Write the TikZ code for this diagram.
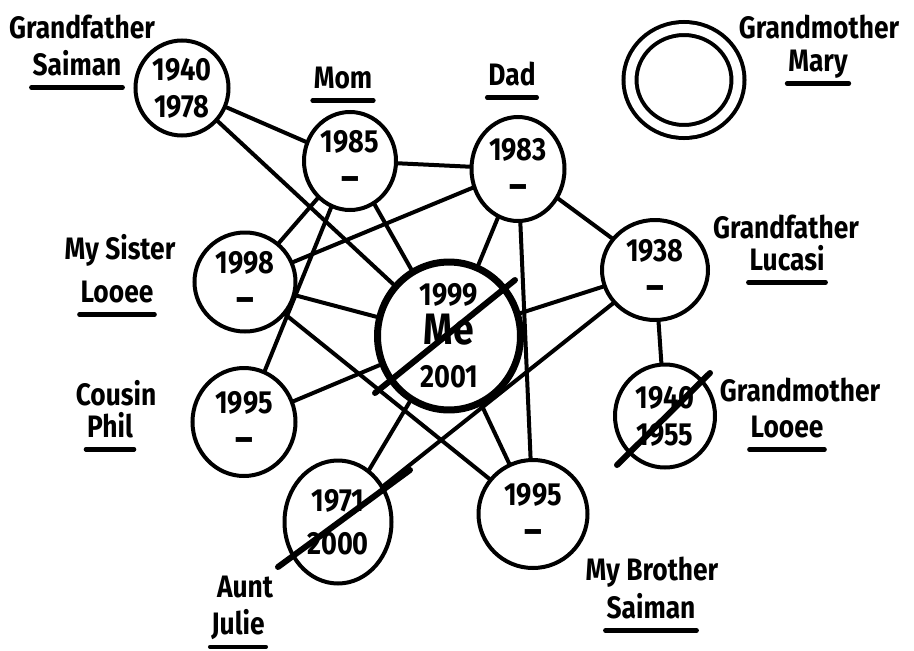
\documentclass[tikz,border=0pt]{standalone}
\usepackage{fontspec}
\setmainfont[FakeStretch=0.85]{Fira Sans}
\usetikzlibrary{shapes.geometric,positioning}

\begin{document}
\begin{tikzpicture}[x=1pt,y=-1pt,
 pc/.style={draw,ellipse,line width=4pt,inner sep=0pt,align=center,
  font=\bfseries\fontsize{32}{37}\selectfont},
 lb/.style={inner sep=1pt,font=\bfseries\fontsize{31}{34}\selectfont},
 ln/.style={line width=4pt,line cap=round},
 ul/.style={line width=4.5pt,line cap=round},
 xo/.style={line width=6pt,line cap=round}]
\newcommand{\nodash}{{\fontsize{40}{37}\selectfont –}}
\path[use as bounding box,fill=white] (0,0) rectangle (914,651);
% people
\node[pc,minimum width=93pt,minimum height=95pt] (gs) at (182,88) {1940\\1978};
\node[pc,minimum width=92pt,minimum height=98pt] (mom) at (350,161) {1985\\[2pt]\nodash};
\node[pc,minimum width=93pt,minimum height=104pt] (dad) at (518,169) {1983\\[2pt]\nodash};
\node[pc,double,double distance=9pt,minimum width=108pt,minimum height=103pt] (mary) at (684,80) {};
\node[pc,minimum width=106pt,minimum height=100pt] (luc) at (655,270) {1938\\[2pt]\nodash};
\node[pc,minimum width=101pt,minimum height=99pt] (sis) at (245,282) {1998\\[2pt]\nodash};
\node[pc,line width=7pt,minimum width=143pt,minimum height=145pt] (me) at (449,336)
 {1999\\[2pt]{\fontsize{44}{40}\selectfont Me}\\[6pt]2001};
\node[pc,minimum width=103pt,minimum height=108pt] (cou) at (244,422) {1995\\[2pt]\nodash};
\node[pc,minimum width=100pt,minimum height=103pt] (gml) at (665,416) {1940\\1955};
\node[pc,minimum width=107pt,minimum height=123pt] (aunt) at (338,522) {1971\\[6pt]2000};
\node[pc,minimum width=109pt,minimum height=108pt] (bro) at (533,514) {1995\\[2pt]\nodash};
% names
\node[lb] (gsT) at (82,27) {Grandfather};
\node[lb] (gsN) at (77,63) {Saiman};
\node[lb] (momN) at (343,78) {Mom};
\node[lb] (dadN) at (512,74) {Dad};
\node[lb] (marT) at (819,27) {Grandmother};
\node[lb] (marN) at (818,64) {Mary};
\node[lb] (lucT) at (786,227) {Grandfather};
\node[lb] (lucN) at (787,258) {Lucasi};
\node[lb] (sisT) at (120,250) {My Sister};
\node[lb] (sisN) at (117,292) {Looee};
\node[lb] (couT) at (116,393) {Cousin};
\node[lb] (couN) at (110,425) {Phil};
\node[lb] (gmlT) at (800,390) {Grandmother};
\node[lb] (gmlN) at (787,427) {Looee};
\node[lb] (aunT) at (245,587) {Aunt};
\node[lb] (aunN) at (238,625) {Julie};
\node[lb] (broT) at (652,572) {My Brother};
\node[lb] (broN) at (651,606) {Saiman};
\foreach \n in {gsN,momN,dadN,marN,lucN,sisN,couN,gmlN,aunN,broN}
 \draw[ul] ([shift={(0,12)}]\n.base west) -- ([shift={(0,12)}]\n.base east);
% links
\foreach \a/\b in {gs/mom,gs/me,mom/dad,mom/sis,mom/cou,mom/me,dad/sis,dad/me,dad/bro,dad/luc,
 luc/gml,luc/me,luc/aunt,sis/me,sis/bro,cou/me,me/aunt,me/bro}
 \draw[ln] (\a) -- (\b);
% crossed out
\draw[xo] ([shift={(-74,57)}]me.center) -- ([shift={(66,-56)}]me.center);
\draw[xo] ([shift={(-48,49)}]gml.center) -- ([shift={(45,-43)}]gml.center);
\draw[xo] ([shift={(-60,45)}]aunt.center) -- ([shift={(72,-52)}]aunt.center);
\end{tikzpicture}
\end{document}
